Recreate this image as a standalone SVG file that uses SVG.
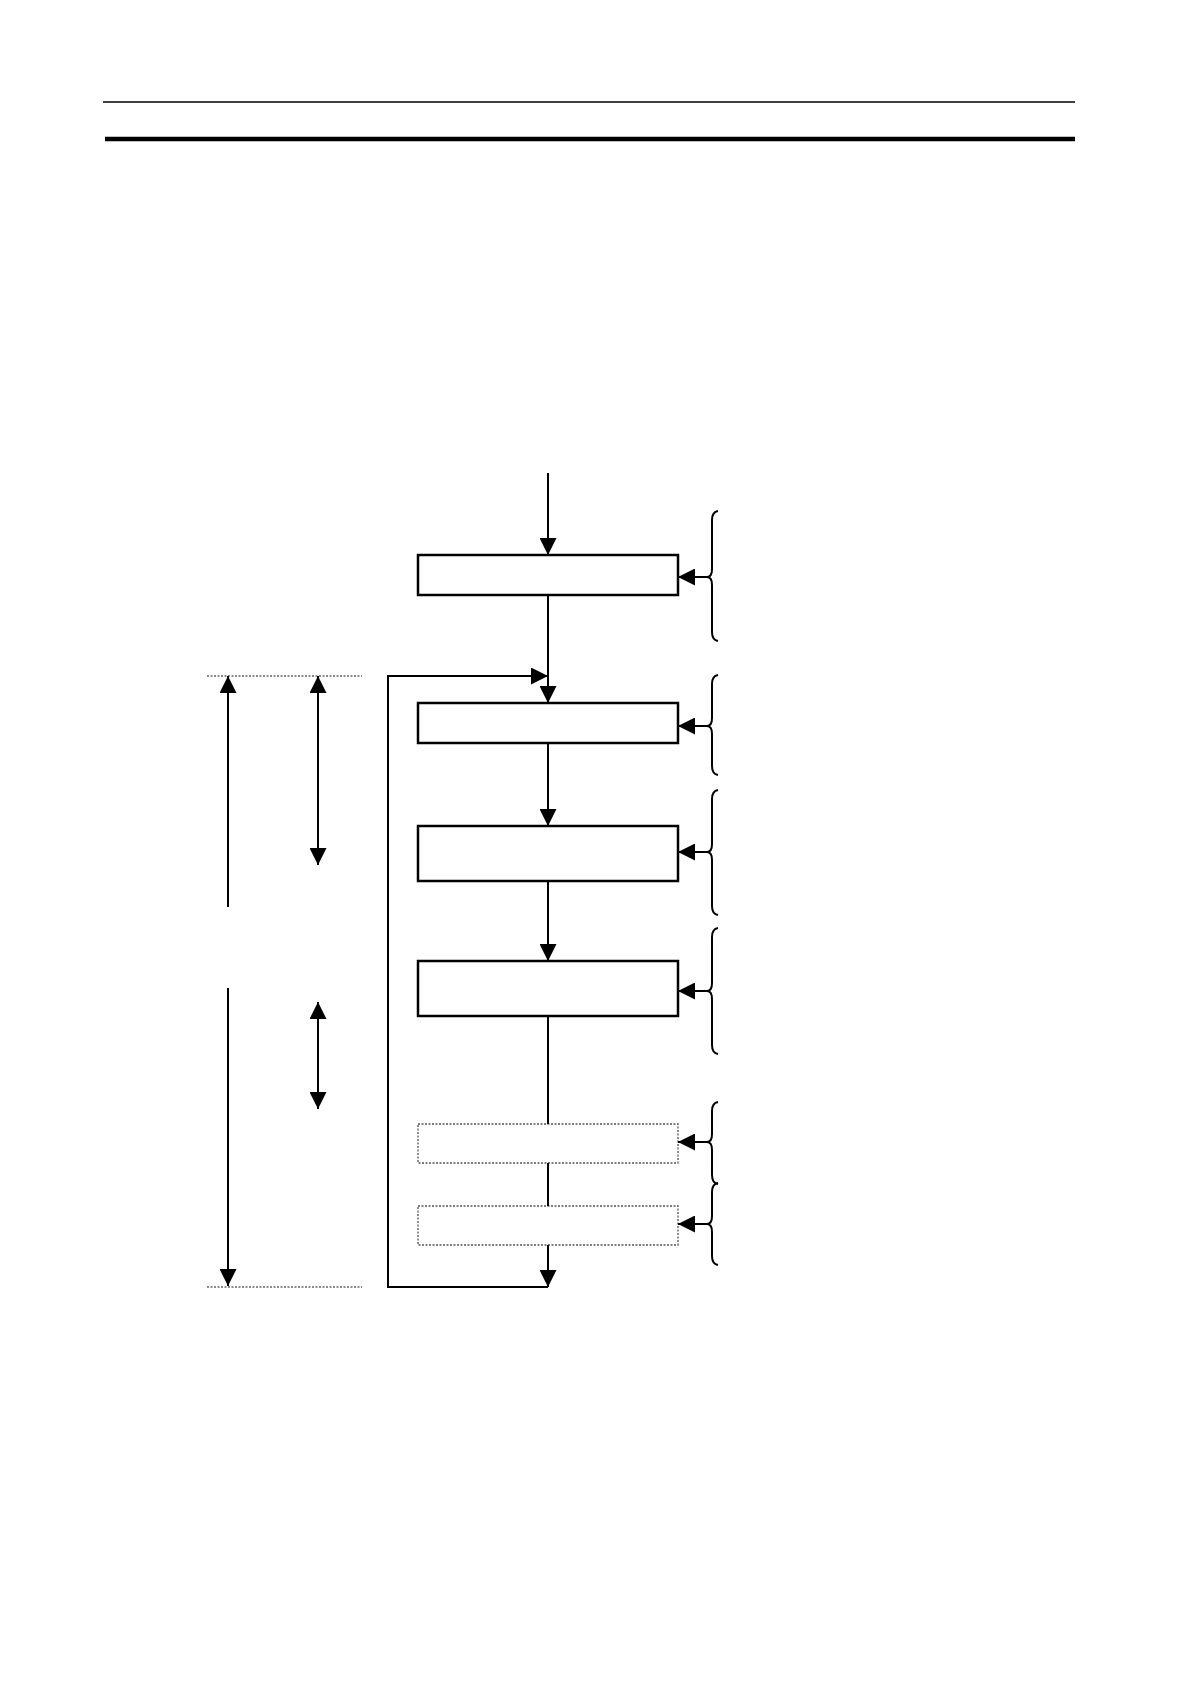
<svg xmlns="http://www.w3.org/2000/svg" width="1190" height="1684" viewBox="0 0 1190 1684">
<style>
.box{fill:#fff;stroke:#000;stroke-width:2.5}
.dbox{fill:#fff;stroke:#555;stroke-width:1.3;stroke-dasharray:2 1.5}
.ln{fill:none;stroke:#000;stroke-width:2}
.br{fill:none;stroke:#000;stroke-width:2}
.dot{fill:none;stroke:#666;stroke-width:1.3;stroke-dasharray:2 1.5}
</style>
<defs>
<marker id="ah" markerUnits="userSpaceOnUse" markerWidth="17" markerHeight="17" refX="15" refY="7.5" orient="auto-start-reverse" viewBox="0 0 15 15">
<path d="M0,0 L15,7.5 L0,15 z" fill="#000"/>
</marker>
</defs>
<g id="header">
<line x1="103" y1="102" x2="1075" y2="102" stroke="#000" stroke-width="1.5"/>
<line x1="105" y1="139" x2="1075" y2="139" stroke="#000" stroke-width="4.5"/>
</g>
<g id="node1"><rect class="box" x="418" y="555" width="260" height="40"/></g>
<g id="node2"><rect class="box" x="418" y="703" width="260" height="40"/></g>
<g id="node3"><rect class="box" x="418" y="826" width="260" height="55"/></g>
<g id="node4"><rect class="box" x="418" y="961" width="260" height="55"/></g>
<g id="node5"><rect class="dbox" x="418" y="1124" width="260" height="39"/></g>
<g id="node6"><rect class="dbox" x="418" y="1206" width="260" height="39"/></g>
<g id="braces">
<path class="br" d="M718,511 Q712,512 712,520 L712,569 Q712,577 707,577 Q712,577 712,585 L712,632 Q712,640 718,641"/>
<path class="br" d="M718,675 Q712,676 712,684 L712,718 Q712,726 707,726 Q712,726 712,734 L712,766 Q712,774 718,775"/>
<path class="br" d="M718,790 Q712,791 712,799 L712,844 Q712,852 707,852 Q712,852 712,860 L712,906 Q712,914 718,915"/>
<path class="br" d="M718,928 Q712,929 712,937 L712,983 Q712,991 707,991 Q712,991 712,999 L712,1045 Q712,1053 718,1054"/>
<path class="br" d="M718,1102 Q712,1103 712,1111 L712,1134 Q712,1142 707,1142 Q712,1142 712,1150 L712,1175 Q712,1183 718,1184"/>
<path class="br" d="M718,1183 Q712,1184 712,1192 L712,1216 Q712,1224 707,1224 Q712,1224 712,1232 L712,1256 Q712,1264 718,1265"/>
</g>
<g id="connectors">
<line class="ln" x1="548" y1="473" x2="548" y2="555" marker-end="url(#ah)"/>
<line class="ln" x1="548" y1="595" x2="548" y2="703" marker-end="url(#ah)"/>
<line class="ln" x1="548" y1="743" x2="548" y2="826" marker-end="url(#ah)"/>
<line class="ln" x1="548" y1="881" x2="548" y2="961" marker-end="url(#ah)"/>
<line class="ln" x1="548" y1="1016" x2="548" y2="1124"/>
<line class="ln" x1="548" y1="1163" x2="548" y2="1206"/>
<line class="ln" x1="548" y1="1245" x2="548" y2="1287" marker-end="url(#ah)"/>
<polyline class="ln" points="548,1287 388,1287 388,676 548,676" marker-end="url(#ah)"/>
<line class="ln" x1="708" y1="577" x2="678" y2="577" marker-end="url(#ah)"/>
<line class="ln" x1="708" y1="726" x2="678" y2="726" marker-end="url(#ah)"/>
<line class="ln" x1="708" y1="852" x2="678" y2="852" marker-end="url(#ah)"/>
<line class="ln" x1="708" y1="991" x2="678" y2="991" marker-end="url(#ah)"/>
<line class="ln" x1="708" y1="1142" x2="678" y2="1142" marker-end="url(#ah)"/>
<line class="ln" x1="708" y1="1224" x2="678" y2="1224" marker-end="url(#ah)"/>
</g>
<g id="dimensions">
<line class="dot" x1="207" y1="676" x2="362" y2="676"/>
<line class="dot" x1="207" y1="1287" x2="362" y2="1287"/>
<line class="ln" x1="228" y1="907" x2="228" y2="676" marker-end="url(#ah)"/>
<line class="ln" x1="228" y1="988" x2="228" y2="1286" marker-end="url(#ah)"/>
<line class="ln" x1="318" y1="676" x2="318" y2="865" marker-start="url(#ah)" marker-end="url(#ah)"/>
<line class="ln" x1="318" y1="1002" x2="318" y2="1109" marker-start="url(#ah)" marker-end="url(#ah)"/>
</g>
</svg>
